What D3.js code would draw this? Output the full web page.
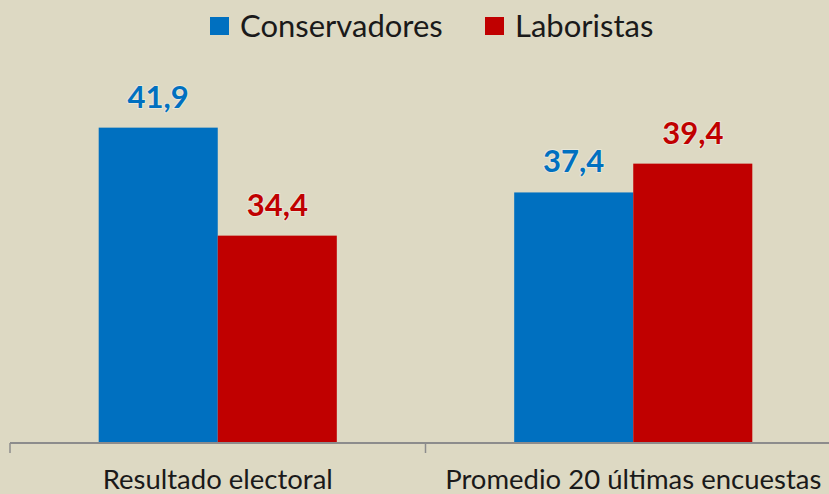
<!DOCTYPE html>
<html>
<head>
<meta charset="utf-8">
<script src="https://cdn.jsdelivr.net/npm/d3@7"></script>
<style>
  body { margin: 0; background: #ddd9c3; }
  svg { display: block; font-family: Lato, 'Open Sans', sans-serif; }
</style>
</head>
<body>
<div id="chart"></div>
<script>
const categories = ['Resultado electoral', 'Promedio 20 últimas encuestas'];
const series = ['Conservadores', 'Laboristas'];
const conservadores = [41.9, 37.4];
const laboristas = [34.4, 39.4];
const colors = ['#0070c0', '#c00000'];

const width = 829;
const height = 494;
const margin = { top: 11, right: -12, bottom: 51, left: 10 };

const data = categories.map((c, i) => ({
  category: c,
  values: [
    { key: series[0], value: conservadores[i] },
    { key: series[1], value: laboristas[i] },
  ],
}));

const svg = d3.select('#chart').append('svg')
  .attr('width', width)
  .attr('height', height);

svg.append('rect')
  .attr('width', width)
  .attr('height', height)
  .attr('fill', '#ddd9c3');

const x0 = d3.scaleBand()
  .domain(categories)
  .range([margin.left, width - margin.right])
  .padding(0);

const x1 = d3.scaleBand()
  .domain(series)
  .range([0, x0.bandwidth()])
  .paddingInner(0)
  .paddingOuter(0.745);

const y = d3.scaleLinear()
  .domain([20, 50])
  .range([height - margin.bottom, margin.top]);

const color = d3.scaleOrdinal().domain(series).range(colors);

// bars
const groups = svg.append('g')
  .selectAll('g')
  .data(data)
  .enter().append('g')
  .attr('transform', d => `translate(${x0(d.category)},0)`);

groups.selectAll('rect')
  .data(d => d.values)
  .enter().append('rect')
  .attr('x', d => x1(d.key))
  .attr('y', d => y(d.value))
  .attr('width', x1.bandwidth())
  .attr('height', d => y(20) - y(d.value))
  .attr('fill', d => color(d.key));

groups.selectAll('text')
  .data(d => d.values)
  .enter().append('text')
  .attr('x', d => x1(d.key) + x1.bandwidth() / 2)
  .attr('y', d => y(d.value) - 20)
  .attr('text-anchor', 'middle')
  .attr('font-size', 31)
  .attr('font-weight', 'bold')
  .attr('fill', d => color(d.key))
  .attr('stroke', 'rgba(255,255,255,0.35)')
  .attr('stroke-width', 2)
  .attr('paint-order', 'stroke')
  .text(d => d3.format('.1f')(d.value).replace('.', ','));

// x axis
const axis = svg.append('g')
  .attr('transform', `translate(0,${y(20)})`);

axis.append('line')
  .attr('x1', margin.left)
  .attr('x2', width)
  .attr('stroke', '#8c8c8c')
  .attr('stroke-width', 2);

axis.selectAll('.tick')
  .data(x0.domain().map(c => x0(c)))
  .enter().append('line')
  .attr('class', 'tick')
  .attr('x1', d => d)
  .attr('x2', d => d)
  .attr('y1', 0)
  .attr('y2', 10)
  .attr('stroke', '#8c8c8c')
  .attr('stroke-width', 1.5);

axis.selectAll('text')
  .data(categories)
  .enter().append('text')
  .attr('x', d => x0(d) + x0.bandwidth() / 2)
  .attr('y', 46)
  .attr('text-anchor', 'middle')
  .attr('font-size', 27.5)
  .attr('fill', '#1a1a1a')
  .text(d => d);

// legend
const legend = svg.append('g')
  .attr('transform', 'translate(210,17)');

const legendX = [0, 275];
const items = legend.selectAll('g')
  .data(series)
  .enter().append('g')
  .attr('transform', (d, i) => `translate(${legendX[i]},0)`);

items.append('rect')
  .attr('width', 19)
  .attr('height', 18)
  .attr('fill', d => color(d));

items.append('text')
  .attr('x', 30)
  .attr('y', 19.5)
  .attr('font-size', 31)
  .attr('fill', '#1a1a1a')
  .text(d => d);
</script>
</body>
</html>
